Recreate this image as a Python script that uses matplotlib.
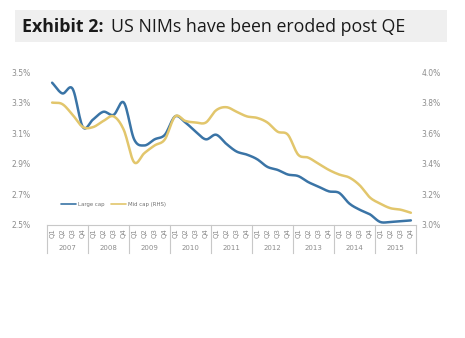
import numpy as np
import matplotlib
matplotlib.use("Agg")
import matplotlib.pyplot as plt
from matplotlib.patches import Rectangle
import matplotlib.transforms as mtransforms

years = ["2007", "2008", "2009", "2010", "2011", "2012", "2013", "2014", "2015"]
quarters = ["Q1", "Q2", "Q3", "Q4"]

large_cap = [3.43, 3.36, 3.39, 3.14, 3.19, 3.24, 3.22, 3.30,
             3.06, 3.02, 3.06, 3.09, 3.21, 3.17, 3.11, 3.06,
             3.09, 3.03, 2.98, 2.96, 2.93, 2.88, 2.86, 2.83,
             2.82, 2.78, 2.75, 2.72, 2.71, 2.64, 2.60, 2.57,
             2.52, 2.52, 2.525, 2.53]
mid_cap = [3.80, 3.79, 3.72, 3.64, 3.64, 3.68, 3.71, 3.62,
           3.41, 3.47, 3.52, 3.56, 3.71, 3.68, 3.67, 3.67,
           3.75, 3.77, 3.74, 3.71, 3.70, 3.67, 3.61, 3.59,
           3.46, 3.44, 3.40, 3.36, 3.33, 3.31, 3.26, 3.18,
           3.14, 3.11, 3.10, 3.08]

left_ticks = [2.5, 2.7, 2.9, 3.1, 3.3, 3.5]
right_ticks = [3.0, 3.2, 3.4, 3.6, 3.8, 4.0]

BLUE = "#3a74a6"
YELLOW = "#e2c66c"
GRAY = "#8c8c8c"


def smooth(y, n=12):
    """Catmull-Rom style smoothing (like Excel's smoothed line)."""
    y = np.asarray(y, float)
    x = np.arange(len(y), dtype=float)
    px = np.concatenate([[2 * x[0] - x[1]], x, [2 * x[-1] - x[-2]]])
    py = np.concatenate([[2 * y[0] - y[1]], y, [2 * y[-1] - y[-2]]])
    xs, ys = [], []
    t = np.linspace(0, 1, n, endpoint=False)
    for i in range(1, len(px) - 2):
        p0, p1, p2, p3 = py[i - 1], py[i], py[i + 1], py[i + 2]
        q0, q1, q2, q3 = px[i - 1], px[i], px[i + 1], px[i + 2]
        for arr, a0, a1, a2, a3 in ((ys, p0, p1, p2, p3), (xs, q0, q1, q2, q3)):
            arr.extend(0.5 * ((2 * a1) + (-a0 + a2) * t
                              + (2 * a0 - 5 * a1 + 4 * a2 - a3) * t ** 2
                              + (-a0 + 3 * a1 - 3 * a2 + a3) * t ** 3))
    xs.append(x[-1]); ys.append(y[-1])
    return np.array(xs), np.array(ys)


W, H = 465, 338
fig = plt.figure(figsize=(W / 100, H / 100), dpi=100)
fig.patch.set_facecolor("white")

# Title box
fig.patches.append(Rectangle((15 / W, 1 - 42 / H), (447 - 15) / W, 32 / H,
                             transform=fig.transFigure, facecolor="#efefef",
                             edgecolor="none", zorder=0))
t1 = fig.text(22 / W, 1 - 27 / H, "Exhibit 2:", fontsize=12.8, fontweight="bold",
              family="Open Sans", color="#1a1a1a", va="center", ha="left")
fig.canvas.draw()
bb = t1.get_window_extent()
fig.text(bb.x1 / W + 7 / W, 1 - 27 / H, "US NIMs have been eroded post QE",
         fontsize=12.8, family="Open Sans", color="#1a1a1a", va="center", ha="left")

left, right, bottom, top = 47 / W, 416 / W, 1 - 225 / H, 1 - 72 / H
ax = fig.add_axes([left, bottom, right - left, top - bottom])
ax2 = ax.twinx()

n = len(large_cap)
bx, by = smooth(large_cap)
mx, my = smooth(mid_cap)
l1, = ax.plot(bx, by, color=BLUE, lw=1.8, solid_capstyle="round", label="Large cap", zorder=3)
l2, = ax2.plot(mx, my, color=YELLOW, lw=1.8, solid_capstyle="round", label="Mid cap (RHS)", zorder=2)

ax.set_xlim(-0.5, n - 0.5)
ax.set_ylim(2.5, 3.5)
ax2.set_ylim(3.0, 4.0)
ax.set_yticks(left_ticks)
ax.set_yticklabels([f"{v:.1f}%" for v in left_ticks])
ax2.set_yticks(right_ticks)
ax2.set_yticklabels([f"{v:.1f}%" for v in right_ticks])
for a in (ax, ax2):
    a.tick_params(axis="y", length=0, labelsize=5.5, labelcolor=GRAY)
    a.tick_params(axis="x", length=0, labelbottom=False)
    for s in a.spines.values():
        s.set_visible(False)
    a.set_facecolor("none")
ax.tick_params(axis="y", pad=12)
ax2.tick_params(axis="y", pad=4)
ax.spines["bottom"].set_visible(True)
ax.spines["bottom"].set_color("#c8c8c8")
ax.spines["bottom"].set_linewidth(0.8)
ax.set_xticks([])

trans = mtransforms.blended_transform_factory(ax.transData, ax.transAxes)
px_to_axes = 1 / (225 - 72)
for yi, yr in enumerate(years):
    for qi, q in enumerate(quarters):
        xi = yi * 4 + qi
        ax.text(xi, -8.5 * px_to_axes, q, transform=trans, rotation=90,
                fontsize=5, color=GRAY, ha="center", va="center")
    ax.text(yi * 4 + 1.5, -23 * px_to_axes, yr, transform=trans,
            fontsize=5, color=GRAY, ha="center", va="center")
for k in range(len(years) + 1):
    ax.plot([k * 4 - 0.5, k * 4 - 0.5], [0, -28 * px_to_axes], transform=trans,
            color="#c8c8c8", lw=0.8, clip_on=False)

leg = ax.legend(handles=[l1, l2], loc="lower left",
                bbox_to_anchor=(0.025, 0.085), frameon=False, ncol=2,
                fontsize=3.9, handlelength=2.8, handletextpad=0.3,
                columnspacing=1.2)
for txt in leg.get_texts():
    txt.set_color("#707070")
for h in leg.legend_handles:
    h.set_linewidth(1.2)

fig.savefig("out.png", dpi=100)
